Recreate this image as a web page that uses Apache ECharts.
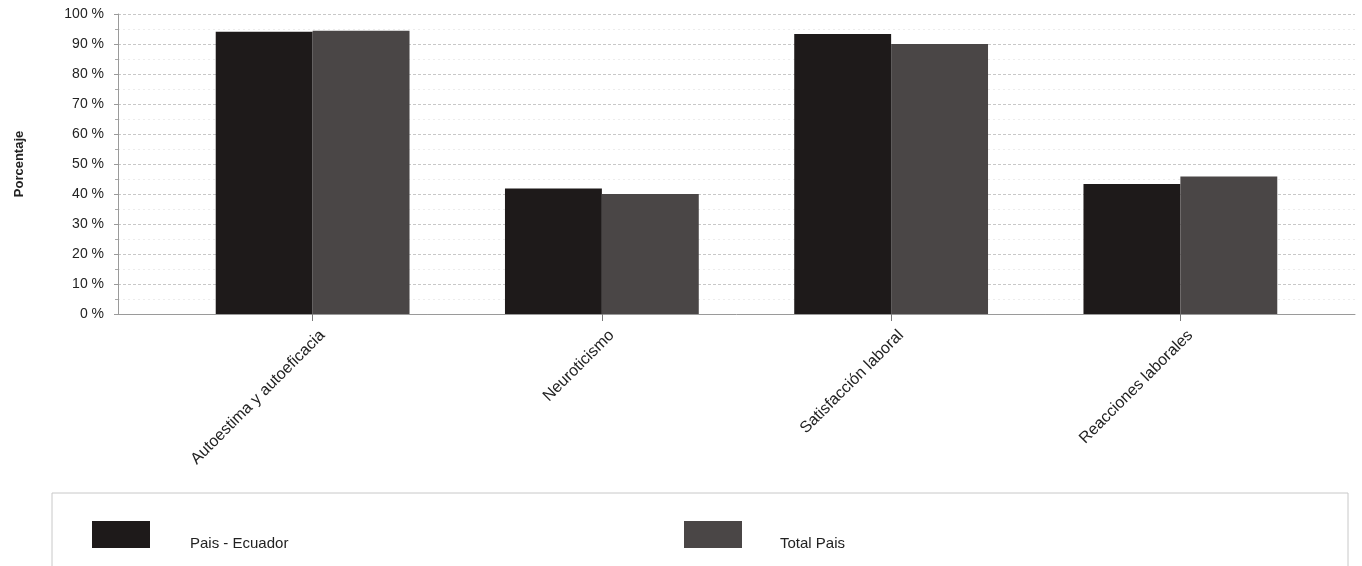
<!DOCTYPE html>
<html>
<head>
<meta charset="utf-8">
<script src="https://cdn.jsdelivr.net/npm/echarts@6/dist/echarts.min.js"></script>
<style>
  html, body { margin: 0; padding: 0; background: #fff; }
  #chart { width: 1362px; height: 566px; }
</style>
</head>
<body>
<div id="chart"></div>
<script>
// Categories and percentages per group
const categories = ['Autoestima y autoeficacia', 'Neuroticismo', 'Satisfacción laboral', 'Reacciones laborales'];
const ecuador = [94.1, 41.8, 93.3, 43.3];
const totalPais = [94.4, 40.0, 90.0, 45.8];
const seriesNames = ['Pais - Ecuador', 'Total Pais'];

const FONT = '"Liberation Sans", Arial, Helvetica, sans-serif';
const chart = echarts.init(document.getElementById('chart'));

// legend label sits low beside its swatch
const legendText = (leftPad) => ({
  fontSize: 15, color: '#222', fontFamily: FONT,
  rich: { t: { fontSize: 15, color: '#222', fontFamily: FONT, padding: [18, 0, 0, leftPad] } }
});

chart.setOption({
  backgroundColor: '#ffffff',
  animation: false,
  textStyle: { fontFamily: FONT },
  grid: [
    // frame grid: value axis, gridlines and baseline across the full width
    { left: 118, right: 7, top: 14, bottom: 252 },
    // bar grid: category slots
    { left: 168, right: 37, top: 14, bottom: 252 }
  ],
  xAxis: [
    {
      gridIndex: 0, type: 'value', min: 0, max: 1,
      axisLine: { show: true, lineStyle: { color: '#9a9a9a', width: 1 } },
      axisTick: { show: false }, axisLabel: { show: false }, splitLine: { show: false }
    },
    {
      gridIndex: 1, type: 'category', data: categories,
      axisLine: { show: false },
      axisTick: { show: true, alignWithLabel: true, length: 7, lineStyle: { color: '#777' } },
      axisLabel: {
        rotate: 45, fontSize: 16, color: '#222', margin: 9, fontFamily: FONT,
        verticalAlign: 'top', padding: [6, 0, 0, 0]
      }
    }
  ],
  yAxis: [
    {
      gridIndex: 0, type: 'value', min: 0, max: 100, interval: 10,
      name: 'Porcentaje', nameLocation: 'middle', nameGap: 92, nameRotate: 90,
      nameTextStyle: { fontSize: 13, fontWeight: 'bold', color: '#222', fontFamily: FONT },
      axisLine: { show: true, lineStyle: { color: '#9a9a9a' } },
      axisTick: { show: true, length: 4, lineStyle: { color: '#9a9a9a' } },
      minorTick: { show: true, splitNumber: 2, length: 3, lineStyle: { color: '#aaa' } },
      axisLabel: { formatter: '{value} %', fontSize: 14, color: '#222', margin: 14, fontFamily: FONT },
      splitLine: { show: true, lineStyle: { color: '#c8c8c8', type: [3, 2], width: 1 } },
      minorSplitLine: { show: true, lineStyle: { color: '#ececec', type: [2, 3], width: 1 } }
    },
    {
      gridIndex: 1, type: 'value', min: 0, max: 100,
      show: false, splitLine: { show: false }
    }
  ],
  legend: [
    {
      data: [seriesNames[0]], left: 92, top: 521, padding: 0,
      icon: 'rect', itemWidth: 58, itemHeight: 27,
      formatter: '{t|{name}}', textStyle: legendText(35)
    },
    {
      data: [seriesNames[1]], left: 684, top: 521, padding: 0,
      icon: 'rect', itemWidth: 58, itemHeight: 27,
      formatter: '{t|{name}}', textStyle: legendText(33)
    }
  ],
  graphic: [
    {
      type: 'rect', silent: true, z: -1,
      shape: { x: 52, y: 493, width: 1296, height: 90 },
      style: { fill: 'none', stroke: '#c8c8c8', lineWidth: 1 }
    }
  ],
  series: [
    {
      name: seriesNames[0], type: 'bar', xAxisIndex: 1, yAxisIndex: 1,
      data: ecuador, barGap: '0%', barCategoryGap: '33%',
      itemStyle: { color: '#1e1a1a' }
    },
    {
      name: seriesNames[1], type: 'bar', xAxisIndex: 1, yAxisIndex: 1,
      data: totalPais, barGap: '0%', barCategoryGap: '33%',
      itemStyle: { color: '#4a4646' }
    }
  ]
});
</script>
</body>
</html>
